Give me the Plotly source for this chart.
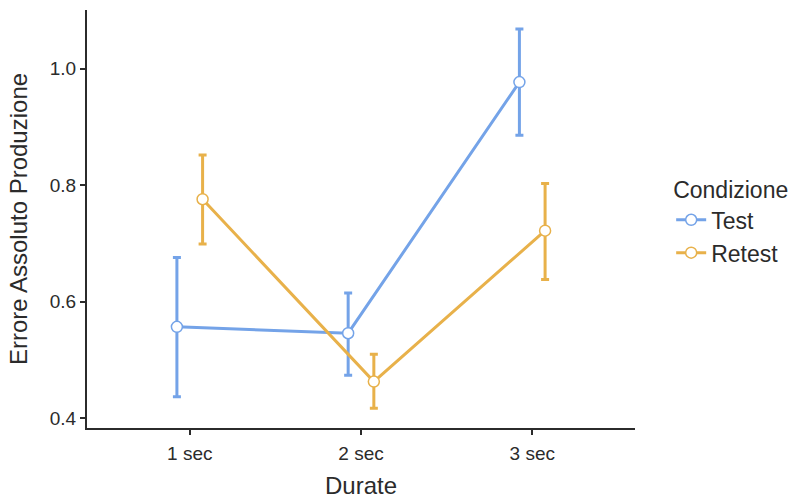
import plotly.graph_objects as go

durations = ["1 sec", "2 sec", "3 sec"]
conditions = ["Test", "Retest"]
means = {
    "Test": [0.557, 0.546, 0.977],
    "Retest": [0.776, 0.463, 0.722],
}
upper = {
    "Test": [0.676, 0.615, 1.068],
    "Retest": [0.852, 0.510, 0.803],
}
lower = {
    "Test": [0.437, 0.474, 0.886],
    "Retest": [0.699, 0.417, 0.638],
}
colors = {"Test": "#74A3E8", "Retest": "#E8B14A"}
dodge = {"Test": -0.075, "Retest": 0.075}

fig = go.Figure()
for cond in conditions:
    xs = [i + 1 + dodge[cond] for i in range(len(durations))]
    m = means[cond]
    fig.add_trace(go.Scatter(
        x=xs, y=m, name=cond, mode="lines+markers",
        line=dict(color=colors[cond], width=3),
        marker=dict(symbol="circle", size=11, color="white",
                    line=dict(color=colors[cond], width=1.5)),
        error_y=dict(type="data", symmetric=False,
                     array=[u - v for u, v in zip(upper[cond], m)],
                     arrayminus=[v - l for v, l in zip(m, lower[cond])],
                     color=colors[cond], thickness=3, width=4),
    ))

ink = "#2b2b2b"
axis_font = dict(family="Liberation Sans, Arial, sans-serif", size=19, color=ink)
title_font = dict(family="Liberation Sans, Arial, sans-serif", size=24, color=ink)
fig.update_layout(
    width=797, height=499,
    margin=dict(l=87, r=162, t=10, b=71, autoexpand=False),
    plot_bgcolor="white", paper_bgcolor="white",
    font=dict(family="Liberation Sans, Arial, sans-serif", color=ink),
    xaxis=dict(
        range=[0.4, 3.6], tickvals=[1, 2, 3], ticktext=durations,
        showline=True, linecolor=ink, linewidth=2,
        ticks="outside", ticklen=5, tickwidth=2, tickcolor=ink,
        ticklabelstandoff=2, automargin=False,
        showgrid=False, zeroline=False, tickfont=axis_font,
        title=dict(text="Durate", font=title_font, standoff=18),
    ),
    yaxis=dict(
        range=[0.3833, 1.1008], tickvals=[0.4, 0.6, 0.8, 1.0],
        ticktext=["0.4", "0.6", "0.8", "1.0"],
        showline=True, linecolor=ink, linewidth=2,
        ticks="outside", ticklen=5, tickwidth=2, tickcolor=ink,
        automargin=False,
        showgrid=False, zeroline=False, tickfont=axis_font,
        title=dict(text="Errore Assoluto Produzione", font=title_font, standoff=15),
    ),
    legend=dict(
        x=1.066, y=0.621, xanchor="left", yanchor="top",
        title=dict(text="Condizione", font=dict(size=23, color=ink)),
        font=dict(size=23, color=ink),
        bgcolor="rgba(0,0,0,0)", itemwidth=30, tracegroupgap=0,
    ),
    showlegend=True,
)

fig.write_html("out.html")
